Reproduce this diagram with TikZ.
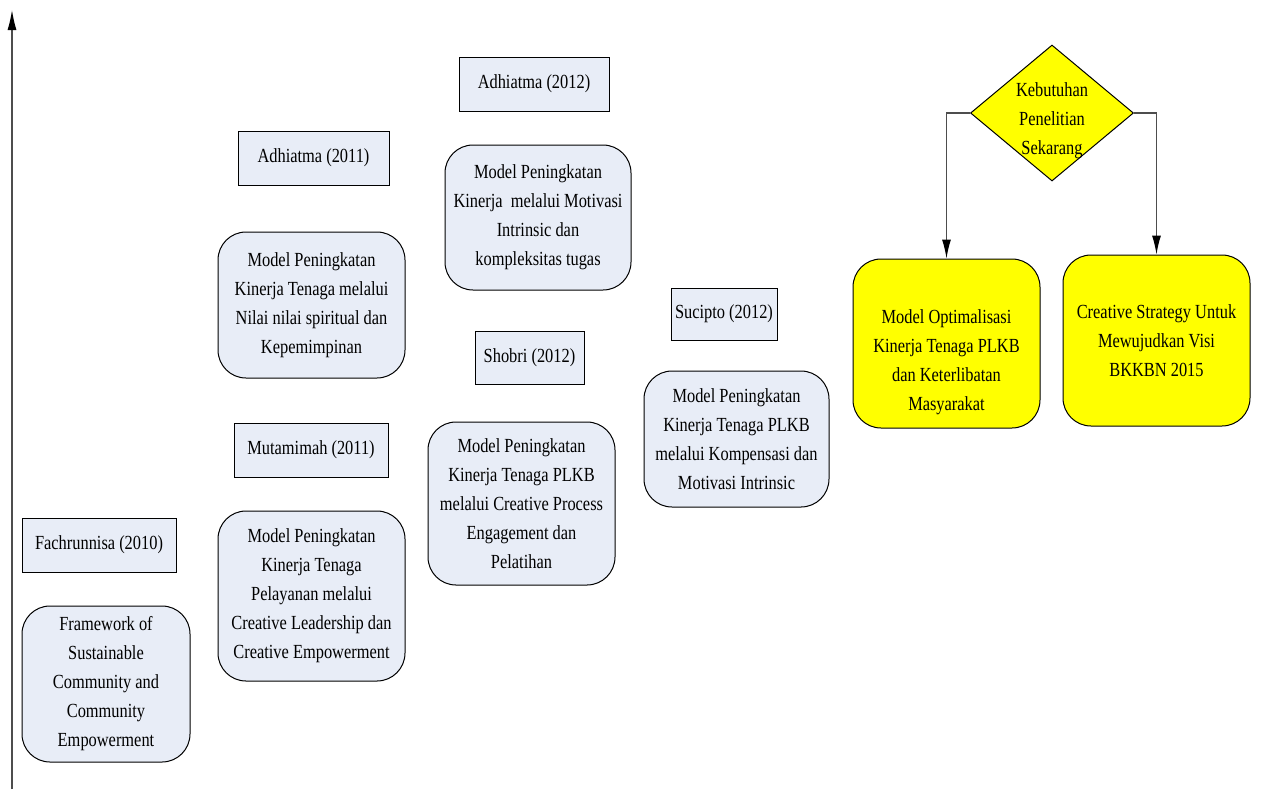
\documentclass[tikz,border=0pt]{standalone}
\usepackage{fontspec}
\setmainfont{Liberation Serif}[FakeStretch=0.82]
\usetikzlibrary{shapes.geometric,arrows.meta}
\definecolor{boxfill}{HTML}{E8EDF7}
\definecolor{linegray}{HTML}{4D4D4D}
\definecolor{goalfill}{HTML}{FFFF00}

\begin{document}
\begin{tikzpicture}[x=0.5pt,y=-0.5pt]
	\tikzset{every node/.style={font=\fontsize{10}{14.5}\selectfont,align=center,line width=0.5pt,inner sep=2pt},
		author/.style={draw,fill=boxfill,minimum height=27pt},
		model/.style={draw,fill=boxfill,rounded corners=14pt},
		result/.style={model,fill=goalfill},
		need/.style={draw,fill=goalfill,diamond,minimum width=81.5pt,minimum height=68pt,inner sep=0pt},
		link/.style={draw=linegray,line width=0.6pt,-{Latex[length=9.5pt,width=4.5pt,color=black]}}}
	\useasboundingbox (0,0) rectangle (1276,789);
	\coordinate (axisbot) at (12,789);
	\coordinate (axistop) at (12,10);
	\draw[link,-{Latex[length=10pt,width=4.5pt,color=black]}] (axisbot) -- (axistop);
	
	\node[author,minimum width=77pt] (fach) at (99,545) {Fachrunnisa (2010)};
	\node[model,minimum width=84pt,minimum height=78pt] (framework) at (106,684)
		{Framework of\\Sustainable\\Community and\\Community\\Empowerment};
	
	\node[author,minimum width=75.5pt] (adh11) at (313.5,158) {Adhiatma (2011)};
	\node[model,minimum width=93.5pt,minimum height=73pt] (spiritual) at (311.5,305)
		{Model Peningkatan\\Kinerja Tenaga melalui\\Nilai nilai spiritual dan\\Kepemimpinan};
	\node[author,minimum width=77pt] (mut) at (311,450) {Mutamimah (2011)};
	\node[model,minimum width=93.5pt,minimum height=85pt] (pelayanan) at (311.5,596)
		{Model Peningkatan\\Kinerja Tenaga\\Pelayanan melalui\\Creative Leadership dan\\Creative Empowerment};
	
	\node[author,minimum width=75pt] (adh12) at (534,84) {Adhiatma (2012)};
	\node[model,minimum width=93pt,minimum height=72.5pt] (tugas) at (538,217.5)
		{Model Peningkatan\\Kinerja \ melalui Motivasi\\Intrinsic dan\\kompleksitas tugas};
	\node[author,minimum width=54.5pt,minimum height=26.5pt] (shobri) at (529.5,357.5) {Shobri (2012)};
	\node[model,minimum width=93.5pt,minimum height=81.5pt] (pelatihan) at (521.5,503.5)
		{Model Peningkatan\\Kinerja Tenaga PLKB\\melalui Creative Process\\Engagement dan\\Pelatihan};
	
	\node[author,minimum width=53pt,minimum height=26pt] (sucipto) at (724,314) {Sucipto (2012)};
	\node[model,minimum width=92.5pt,minimum height=68pt] (kompensasi) at (736.5,439)
		{Model Peningkatan\\Kinerja Tenaga PLKB\\melalui Kompensasi dan\\Motivasi Intrinsic};
	
	\node[need] (kebutuhan) at (1052,113)
		{\smash{\raisebox{-6pt}{\begin{tabular}{@{}c@{}}Kebutuhan\\Penelitian\\Sekarang\end{tabular}}}};
	\node[result,minimum width=93.5pt,minimum height=84.5pt] (optimalisasi) at (946.5,343.5)
		{\smash{\raisebox{-11.5pt}{\begin{tabular}{@{}c@{}}Model Optimalisasi\\Kinerja Tenaga PLKB\\dan Keterlibatan\\Masyarakat\end{tabular}}}};
	\node[result,minimum width=93.5pt,minimum height=85.5pt] (strategy) at (1156.5,340.5)
		{Creative Strategy Untuk\\Mewujudkan Visi\\BKKBN 2015};
	
	\draw[link] (kebutuhan.west) -| (optimalisasi.north);
	\draw[link] (kebutuhan.east) -| (strategy.north);
\end{tikzpicture}
\end{document}
